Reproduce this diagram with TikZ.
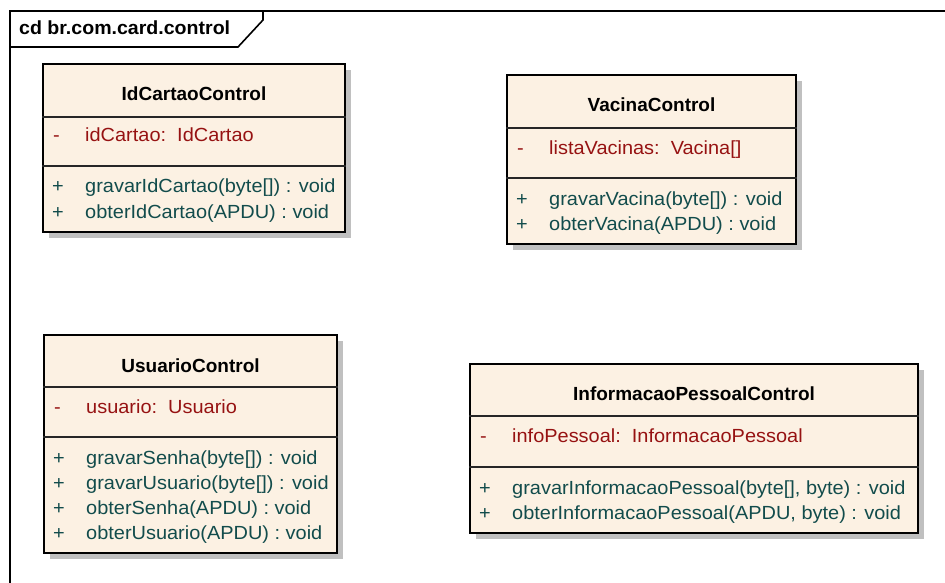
\documentclass[tikz,border=0pt]{standalone}
\usepackage{fontspec}
\setmainfont{Liberation Sans}
\newfontfamily\umlfont[FakeStretch=1.05]{Liberation Sans}
\newfontfamily\umlbold[FakeStretch=1.0]{Liberation Sans Bold}
\newfontfamily\framebold[FakeStretch=1.03]{Liberation Sans Bold}
\usetikzlibrary{calc,shadows}
\definecolor{attrred}{RGB}{150,18,18}
\definecolor{opteal}{RGB}{18,76,76}
\definecolor{classfill}{RGB}{252,241,227}
\definecolor{shadowgray}{RGB}{192,192,192}
\tikzset{
  classbox/.style={draw=black, line width=2pt, fill=classfill, inner sep=0pt,
    drop shadow={shadow xshift=6pt, shadow yshift=-6pt, fill=shadowgray, opacity=1}},
  sep/.style={line width=1.3pt, draw=black!85},
  title/.style={anchor=base, inner sep=0pt, font=\umlbold\fontsize{19}{22}\selectfont},
  attr/.style={anchor=base west, inner sep=0pt, text=attrred, font=\umlfont\fontsize{19}{22}\selectfont},
  oper/.style={anchor=base west, inner sep=0pt, text=opteal, font=\umlfont\fontsize{19}{22}\selectfont},
  framebox/.style={draw=black, line width=1.6pt},
}
\begin{document}
\begin{tikzpicture}[x=1pt, y=-1pt]
\useasboundingbox[fill=white] (0,0) rectangle (945,583);

% diagram frame with its name tab
\coordinate (fbl) at (10,583);
\coordinate (ftl) at (10,11);
\coordinate (ftr) at (945,11);
\coordinate (tabbl) at (10,47);
\coordinate (tabbr) at (238,47);
\coordinate (tabcr) at (263,20);
\coordinate (tabtr) at (263,11);
\draw[framebox] (fbl) -- (ftl) -- (ftr);
\draw[framebox] (tabbl) -- (tabbr) -- (tabcr) -- (tabtr);
\node[anchor=base west, inner sep=0pt, font=\framebold\fontsize{19}{22}\selectfont] (framename) at (19,35) {cd br.com.card.control};

% ---------- IdCartaoControl ----------
\node[classbox, anchor=north west, minimum width=302pt, minimum height=168pt] (idc) at (42,63) {};
\draw[sep] ($(idc.north west)+(0,54)$) -- ($(idc.north east)+(0,54)$);
\draw[sep] ($(idc.north west)+(0,103)$) -- ($(idc.north east)+(0,103)$);
\node[title] (idcT) at ($(idc.north)+(0,38)$) {IdCartaoControl};
\node[attr] (idcAv) at ($(idc.north west)+(11,79)$) {-};
\node[attr] (idcA) at ($(idc.north west)+(43,79)$) {idCartao:\ \ IdCartao};
\node[oper] (idcO1v) at ($(idc.north west)+(10,130)$) {+};
\node[oper] (idcO1) at ($(idc.north west)+(43,130)$) {gravarIdCartao(byte[]) : void};
\node[oper] (idcO2v) at ($(idc.north west)+(10,155)$) {+};
\node[oper] (idcO2) at ($(idc.north west)+(43,155)$) {obterIdCartao(APDU) : void};

% ---------- VacinaControl ----------
\node[classbox, anchor=north west, minimum width=289pt, minimum height=169pt] (vac) at (506,74) {};
\draw[sep] ($(vac.north west)+(0,54)$) -- ($(vac.north east)+(0,54)$);
\draw[sep] ($(vac.north west)+(0,104)$) -- ($(vac.north east)+(0,104)$);
\node[title] (vacT) at ($(vac.north)+(0,38)$) {VacinaControl};
\node[attr] (vacAv) at ($(vac.north west)+(11,80)$) {-};
\node[attr] (vacA) at ($(vac.north west)+(43,80)$) {listaVacinas:\ \ Vacina[]};
\node[oper] (vacO1v) at ($(vac.north west)+(10,131)$) {+};
\node[oper] (vacO1) at ($(vac.north west)+(43,131)$) {gravarVacina(byte[]) : void};
\node[oper] (vacO2v) at ($(vac.north west)+(10,156)$) {+};
\node[oper] (vacO2) at ($(vac.north west)+(43,156)$) {obterVacina(APDU) : void};

% ---------- UsuarioControl ----------
\node[classbox, anchor=north west, minimum width=293pt, minimum height=218pt] (usr) at (43,334) {};
\draw[sep] ($(usr.north west)+(0,53)$) -- ($(usr.north east)+(0,53)$);
\draw[sep] ($(usr.north west)+(0,103)$) -- ($(usr.north east)+(0,103)$);
\node[title] (usrT) at ($(usr.north)+(0,38)$) {UsuarioControl};
\node[attr] (usrAv) at ($(usr.north west)+(11,79)$) {-};
\node[attr] (usrA) at ($(usr.north west)+(43,79)$) {usuario:\ \ Usuario};
\node[oper] (usrO1v) at ($(usr.north west)+(10,130)$) {+};
\node[oper] (usrO1) at ($(usr.north west)+(43,130)$) {gravarSenha(byte[]) : void};
\node[oper] (usrO2v) at ($(usr.north west)+(10,155)$) {+};
\node[oper] (usrO2) at ($(usr.north west)+(43,155)$) {gravarUsuario(byte[]) : void};
\node[oper] (usrO3v) at ($(usr.north west)+(10,180)$) {+};
\node[oper] (usrO3) at ($(usr.north west)+(43,180)$) {obterSenha(APDU) : void};
\node[oper] (usrO4v) at ($(usr.north west)+(10,205)$) {+};
\node[oper] (usrO4) at ($(usr.north west)+(43,205)$) {obterUsuario(APDU) : void};

% ---------- InformacaoPessoalControl ----------
\node[classbox, anchor=north west, minimum width=448pt, minimum height=169pt] (inf) at (469,363) {};
\draw[sep] ($(inf.north west)+(0,53)$) -- ($(inf.north east)+(0,53)$);
\draw[sep] ($(inf.north west)+(0,104)$) -- ($(inf.north east)+(0,104)$);
\node[title] (infT) at ($(inf.north)+(0,37)$) {InformacaoPessoalControl};
\node[attr] (infAv) at ($(inf.north west)+(11,79)$) {-};
\node[attr] (infA) at ($(inf.north west)+(43,79)$) {infoPessoal:\ \ InformacaoPessoal};
\node[oper] (infO1v) at ($(inf.north west)+(10,131)$) {+};
\node[oper] (infO1) at ($(inf.north west)+(43,131)$) {gravarInformacaoPessoal(byte[], byte) : void};
\node[oper] (infO2v) at ($(inf.north west)+(10,156)$) {+};
\node[oper] (infO2) at ($(inf.north west)+(43,156)$) {obterInformacaoPessoal(APDU, byte) : void};
\end{tikzpicture}
\end{document}
